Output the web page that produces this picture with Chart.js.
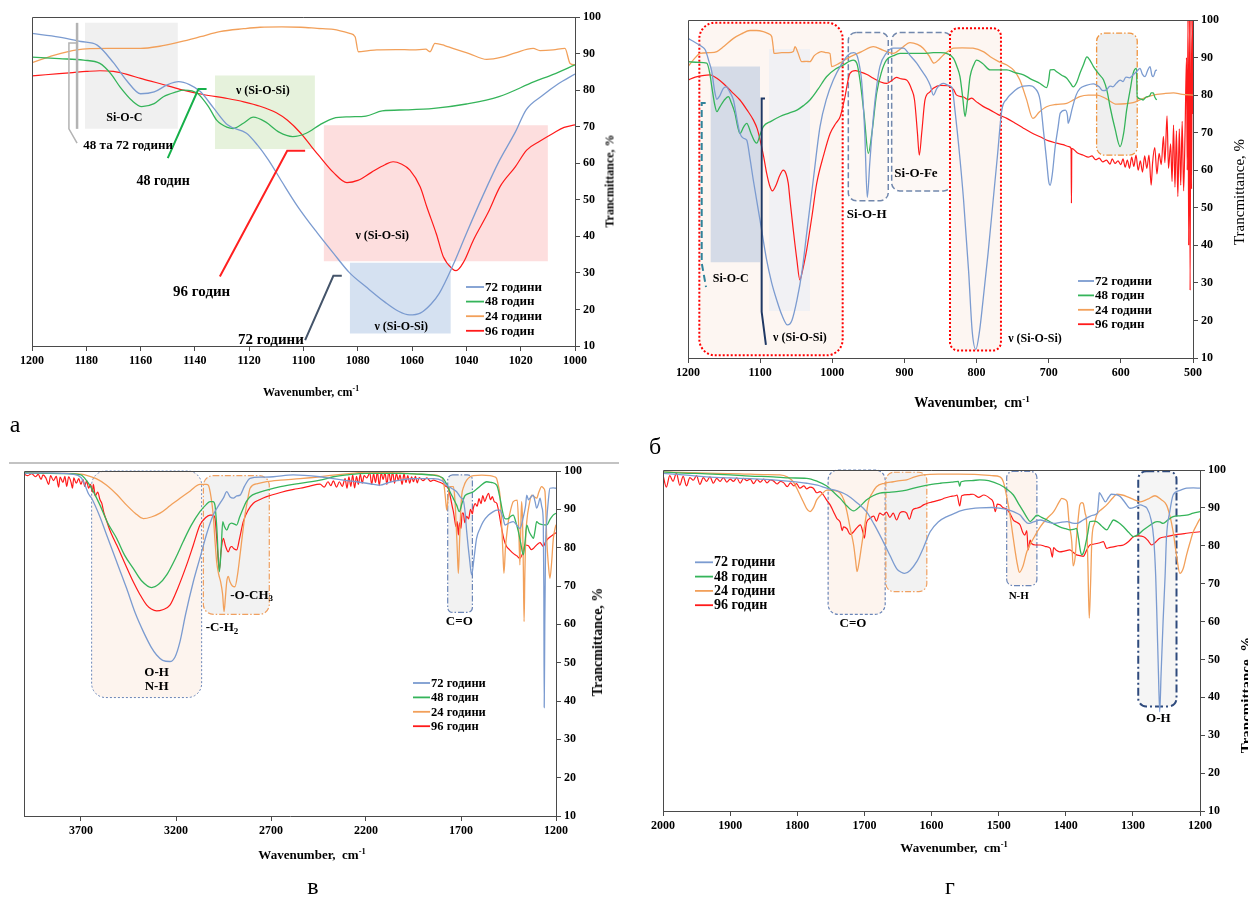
<!DOCTYPE html>
<html>
<head>
<meta charset="utf-8">
<title>ІЧ-спектри</title>
<script src="https://cdn.jsdelivr.net/npm/chart.js@4.4.1/dist/chart.umd.min.js"></script>
<style>
  html, body { margin: 0; padding: 0; background: #fff; }
  body { position: relative; width: 1248px; height: 901px; overflow: hidden; font-family: "Liberation Serif", "Times New Roman", serif; }
  canvas { position: absolute; }
  .t { position: absolute; white-space: nowrap; color: #000; transform: translate(-50%, -50%); }
  .b { font-weight: bold; }
  .rot { transform: translate(-50%, -50%) rotate(-90deg); }
  .t sup { font-size: 0.65em; vertical-align: 0.55em; line-height: 0; }
  .letter { font-size: 24px; }
  .rule { position: absolute; left: 9px; top: 462px; width: 610px; height: 2px; background: #c3c3c3; }
</style>
</head>
<body>
<canvas id="chartA" width="640" height="420" style="left:0;top:0"></canvas>
<canvas id="chartB" width="608" height="430" style="left:640px;top:0"></canvas>
<canvas id="chartC" width="640" height="445" style="left:0;top:455px"></canvas>
<canvas id="chartD" width="608" height="445" style="left:640px;top:455px"></canvas>
<div class="rule"></div>

<div class="t b" style="left:311px;top:392px;font-size:12px">Wavenumber, cm<sup>-1</sup></div>
<div class="t b" style="left:972px;top:403px;font-size:14px">Wavenumber,&nbsp; cm<sup>-1</sup></div>
<div class="t b" style="left:312px;top:855px;font-size:13px">Wavenumber,&nbsp; cm<sup>-1</sup></div>
<div class="t b" style="left:954px;top:848px;font-size:13px">Wavenumber,&nbsp; cm<sup>-1</sup></div>

<div class="t b rot" style="left:610px;top:181px;font-size:12px">Trancmittance, %</div>
<div class="t rot" style="left:1239px;top:192px;font-size:15px">Trancmittance, %</div>
<div class="t b rot" style="left:598px;top:642px;font-size:14px">Trancmittance, %</div>
<div class="t b rot" style="left:1246px;top:695px;font-size:15px">Trancmittance, %</div>

<div class="t letter" style="left:15px;top:424px">а</div>
<div class="t letter" style="left:655px;top:446px">б</div>
<div class="t letter" style="left:313px;top:886px">в</div>
<div class="t letter" style="left:950px;top:886px">г</div>

<script>
// ---------- series names ----------
const seriesNames = ['72 години', '48 годин', '24 години', '96 годин'];

// ---------- tick labels ----------
const ticksA = [1200, 1180, 1160, 1140, 1120, 1100, 1080, 1060, 1040, 1020, 1000];
const ticksB = [1200, 1100, 1000, 900, 800, 700, 600, 500];
const ticksC = [3700, 3200, 2700, 2200, 1700, 1200];
const ticksD = [2000, 1900, 1800, 1700, 1600, 1500, 1400, 1300, 1200];
const ticksT = [10, 20, 30, 40, 50, 60, 70, 80, 90, 100];

// ---------- panel а: 1200–1000 cm-1 ----------
const a72 = [[1200,95.5],[1190,94.5],[1182,93.3],[1176,92.3],[1170,87.5],[1165,82.5],[1160,79],[1155,79.5],[1150,81.5],[1146,82.3],[1142,81.5],[1138,79.6],[1133,75],[1128,70.5],[1121,68.2],[1117,65],[1113,61],[1108,55],[1102,48],[1095,41],[1089,35.4],[1083,30],[1077,26.2],[1070,22],[1065,19.5],[1061,18.5],[1057,19],[1053,21.5],[1050,24.4],[1045,32],[1040,40.8],[1034,51],[1028,60.5],[1022,68.5],[1018,74.6],[1012,78.5],[1006,81.8],[1000,84.4]];
const a48 = [[1200,89],[1190,88.6],[1181,88.2],[1175,87.3],[1171,84.5],[1167.6,80.9],[1163,77],[1159.6,75.5],[1155,76.3],[1151.6,78.2],[1147,79.5],[1144,80],[1139,79.1],[1135,75.5],[1132,71.8],[1128,69.8],[1125.9,69.5],[1122,71],[1118.5,72.6],[1114,71.3],[1109,68.5],[1104,67.3],[1099,68.2],[1094,70.5],[1089,72.3],[1083,72.7],[1077,72.9],[1071,74.3],[1062,74.6],[1052,75],[1040,76.2],[1028,78.2],[1015,82.3],[1008,84.3],[1000,86.9]];
const a24 = [[1200,87.5],[1192,89.5],[1183.5,91],[1172,91.4],[1160,91.4],[1153,92],[1145.5,93.2],[1138,94.6],[1130.8,96],[1122,96.8],[1116,97.2],[1108,97.3],[1101,97.2],[1095,96.9],[1089,96.6],[1083,95.5],[1081,94.6],[1079.8,90.5],[1076,90.8],[1073,91],[1066,91.1],[1059.6,91],[1055,91.2],[1053.4,90.5],[1051.6,92.8],[1048,92.2],[1045,91.4],[1039,90],[1032.5,88.4],[1027,89],[1022,90.2],[1015.4,91.4],[1012.9,90.8],[1008,91],[1003.7,91.4],[1001.8,87.3],[1000,86.9]];
const a96 = [[1200,83.9],[1195,84.2],[1190,84.5],[1185,84.8],[1180,85.1],[1175,85.3],[1170,85.1],[1165,84.3],[1160,83.2],[1153,81.8],[1145.5,80.2],[1137,78.8],[1128,77.7],[1122,76.8],[1116,75.6],[1110,73.8],[1106,71.8],[1101,68.2],[1097,64.5],[1094,61.8],[1089,57.5],[1084,54.7],[1080,55.3],[1075,57.5],[1070,59.6],[1067,60.4],[1064,59.8],[1060.8,58.1],[1057,53.5],[1054.6,48.1],[1051,40.5],[1048.5,34.4],[1045,31],[1043.8,30.6],[1041,33],[1037.4,39],[1032,46.5],[1027.6,53.6],[1022,59],[1017.8,63.6],[1013,66],[1008,68.2],[1004,69.8],[1000,70.5]];

// ---------- panel б: 1200–500 cm-1 ----------
const b72 = [[1200,95.1],[1190,94],[1180,92.8],[1176,92],[1171,89],[1167,86.2],[1163,81],[1160,78.9],[1156,79.8],[1151,81.8],[1147,82.2],[1142,80.8],[1137,78.7],[1132,73.5],[1128,69.8],[1123,68.5],[1118.6,68],[1114,63],[1109.5,57.4],[1100,46.5],[1091,36.1],[1084,30],[1077,25.4],[1070,21.5],[1062,18.8],[1056,20],[1049,25.4],[1042,33],[1035.5,43.2],[1026,58],[1017,71.6],[1008,79],[998.6,84],[988,88],[978,90.7],[970,91.3],[966,90.7],[962,87.5],[959,83.1],[955,70],[951.5,52.8],[948,62],[943,74.3],[938,83],[934,87.6],[925,91.2],[915.5,92.5],[901.5,92.5],[892,90.5],[883,88.5],[876,86.5],[869,84.5],[864,82.5],[860,80],[855,81.8],[850,82.8],[846,83.1],[838,82.5],[834,82],[830,76],[823,63],[818,52],[811,33],[806,17],[801,12.3],[796,17],[791,25.4],[784,38],[777,52],[771,64],[765,76],[758,79],[751,80.5],[743,81.8],[735,82.4],[727,82.5],[719,81.8],[712,78.7],[707,70],[703,62.7],[700,57],[698,56],[695,59],[691,66.3],[687,71.5],[684,75.2],[677,76],[674,74.5],[673,72.5],[671,73.5],[668,76],[662,80],[656.5,81.8],[648,82.6],[638,83],[633,82.6],[630,82.2],[625,81.2],[620,81.4],[615,82.4],[611,82.2],[606,83.2],[601,84],[597,83.6],[593,84.8],[588,84.6],[583,85.4],[578,86.3],[573.5,87.1],[570,85.5],[566.6,84.9],[563,86.5],[559.6,87.6],[557,85.3],[555,84.9],[552,86.5],[550,86.7]];
const b48 = [[1200,88.9],[1185,88.7],[1174,88.5],[1170,86],[1167,82.2],[1163,77.5],[1160,75.6],[1156,76.8],[1150,78.6],[1144,79.6],[1140,78],[1135,75.2],[1131,71.5],[1128,69.8],[1123,71.5],[1118.6,72.5],[1113,70],[1108,67.8],[1104.8,67.2],[1100,69.5],[1095.6,71.6],[1085,73],[1072.5,74.3],[1060,75.2],[1049,76],[1040,77.2],[1031,78.7],[1020,81.5],[1008,84.9],[995,87],[985,88],[971,89.3],[966,88.5],[961.6,84],[956,75],[950,64.5],[945,70],[938.5,80.5],[932,86],[925,89.3],[915,90.5],[906,91.1],[890,91.1],[874,91.1],[860,91.3],[850,91.3],[840,91],[832,89.8],[827,87.5],[823,84.9],[819,79],[816,74.3],[813,78],[809,84.9],[804,88],[800,89.3],[792,88.5],[781,86.7],[770,86.7],[758,86.7],[747,86],[735,85.4],[724,84.2],[712,83.1],[703,82],[700,84],[698,86.7],[693,86.8],[689,86.2],[682,85.3],[675,84.5],[670,83.2],[666,82.2],[661,83.5],[656.7,85.8],[652,88],[647,90.2],[642,89],[638,87.6],[630,85.5],[624,84],[619,81],[615,76.9],[608,71],[601,66.3],[596,70],[592,76],[587,81.5],[583,85.8],[578.3,87.1],[577.4,79.6],[573,79],[569,78.7],[565,79.5],[560,79.8],[558,80.6],[555,80.6],[553,79.5],[550.4,78.7]];
const b24 = [[1200,87.6],[1192,89.5],[1183,91.1],[1170,91.3],[1160,91.6],[1150,93],[1137,95.1],[1126,96.3],[1114,97.2],[1105,97.2],[1095.6,96.9],[1088,96.3],[1084,95.6],[1082,93],[1080.8,91.1],[1070,91.3],[1060,91.3],[1054,91.6],[1051.7,92.9],[1048,91.5],[1042.4,88.9],[1036,89],[1031,88.9],[1025,90.5],[1020,91.2],[1014.7,91.6],[1008,91.3],[1003.2,91.1],[1000.9,87.6],[990,88.5],[975.5,90.2],[960,91.5],[943,92.9],[930,92],[915.5,91.1],[904,92.5],[892.3,94],[882,93.5],[874,92.5],[866,90.5],[859,88.5],[852,89.5],[846,90.7],[838,91.9],[832,92.5],[820,92.6],[805,92.5],[790,91.5],[781,90.2],[770,89],[758,88],[748,86.5],[740,84],[731,79],[722,73.8],[713,75.5],[703,76.9],[690,77.5],[675,77.8],[665,78.8],[657,79.6],[645,80],[633,80],[620,79],[606,77.6],[594,77.7],[583,78],[570,79],[555,80],[540,80.4],[527,80.6],[515,80.2],[500,80]];
const b96 = [[1200,84],[1190,84.8],[1180,85.2],[1169.5,85.4],[1160,84.5],[1151,83.1],[1140,81],[1128,78.7],[1118,76],[1109.5,73.4],[1104,71],[1100,68],[1095,63.5],[1091,59.2],[1087,56],[1083,54.5],[1078,56],[1073,58.5],[1068,60],[1064,59],[1061,56.5],[1058.6,52],[1054,44],[1049,36],[1045,30.8],[1041,33.5],[1035.5,38.8],[1028,48],[1021.6,56.5],[1012,64],[1003,69.8],[995,72.5],[989,74.3],[983,79],[975.5,85.8],[968,86.5],[961.6,86.2],[952,85.5],[943,84.5],[933,83.5],[924.6,83.1],[918,83.8],[911,84.7],[904,84.3],[897,84],[890,81.5],[886,78.7],[882,70],[879.4,64],[876,70],[871.5,78.7],[865,80.8],[860,81.8],[850,82.6],[840,82.5],[832,81.5],[827.6,80],[818,79.5],[812,78.8],[807,79.2],[800,78.2],[791,77],[781,76],[770,74.8],[758,73.8],[747,72.6],[735,71.2],[724,70],[712,68.9],[700,67.8],[689,67.2],[680,66.8],[672,66.3],[669,65.8],[668.5,51.2],[668,65.8],[660,64.6],[652,64],[645,63.5],[640,63.8],[635,62.8],[630,63.2],[625,62.2],[620,62.7],[615,61.6],[612,63],[608,61.8],[604,62.5],[600,61.5],[597,63],[594,60.8],[591,62.7],[588,60.5],[585,63.5],[582,61],[579,64],[576,60],[573,62.5],[570,59.5],[567,63.8],[564,60.5],[561,64],[558,56],[556,62],[553,66],[550,59],[547,64.5],[544,61.5],[541,69],[539,62],[536,74.5],[534,60.5],[531,67],[529,57],[527,72],[525,55.5],[523,70.5],[521,53],[519,71],[517,56],[515,73],[513,54.5],[511,70],[509,90],[508,60],[507,100],[506,40],[505,100],[504,28],[503,100],[502,55],[501,100],[500,75]];

// ---------- panel в: 4000–1200 cm-1 ----------
const c72 = [[4000,99.4],[3900,99.5],[3800,99.4],[3750,99.2],[3700,98.3],[3679,96.3],[3660,94],[3644,92.9],[3600,88],[3565,83.3],[3510,76],[3460,69.4],[3415,63],[3372,58.1],[3330,54],[3302,52],[3270,50.6],[3232,50.3],[3205,51.5],[3179,55.5],[3150,62.5],[3109,71.1],[3070,78],[3038,83.7],[3004,88.5],[2968,91.6],[2950,93],[2933,94.6],[2915,93.2],[2898,92.9],[2880,93.5],[2863,93.7],[2840,96],[2810,98.1],[2750,98.4],[2688,98.5],[2583,99],[2442,98.5],[2372,98],[2300,97.5],[2250,97.2],[2196,96.8],[2160,96.5],[2126,96.3],[2080,97],[2021,97.6],[1950,98],[1846,98],[1800,97.5],[1775,96.3],[1750,95.5],[1723,94.6],[1700,93],[1688,92.4],[1678,89],[1670,84.2],[1655,77],[1644,72.9],[1632,77],[1618,82.4],[1600,85],[1583,86.8],[1555,88.5],[1530,89.4],[1510,89.8],[1495,89.8],[1480,88],[1468,85.9],[1445,86.5],[1425,86.8],[1405,85.8],[1390,85],[1372,88],[1360,91],[1354,93.7],[1345,92.5],[1337,92.9],[1320,93.7],[1310,92],[1302,90.3],[1292,91.5],[1284,92.9],[1274,90.5],[1267,86.8],[1264,70],[1262,38.3],[1259,60],[1255,80],[1249,86.8],[1240,92.5],[1232,95.5],[1215,95.6],[1200,95.5]];
const c48 = [[4000,99.5],[3900,99.4],[3800,99.3],[3700,99],[3679,98],[3650,96],[3600,91.1],[3560,86.5],[3512,82.4],[3470,78],[3425,74.6],[3380,71.3],[3328,69.6],[3290,70.5],[3249,72.9],[3200,77.5],[3162,81.6],[3120,85.8],[3074,89.4],[3040,91.3],[3021,92],[3005,92],[2995,91.1],[2985,85],[2972,73.7],[2962,80],[2954,86.8],[2945,85.5],[2933,84.6],[2920,86],[2907,86.4],[2895,86.2],[2881,85.9],[2865,88],[2846,90.3],[2830,92],[2810,93.3],[2770,94.3],[2723,95],[2650,95.9],[2547,96.8],[2442,97.6],[2372,98.5],[2300,99],[2196,99.4],[2100,99.4],[2021,99.4],[1930,99.2],[1846,98.9],[1800,98.3],[1793,98],[1775,96.5],[1758,94.6],[1740,92.8],[1723,91.1],[1709,89.4],[1695,91.5],[1680,93.5],[1670,93.9],[1650,94.3],[1635,94.6],[1600,96],[1565,97.2],[1540,97],[1512,96.3],[1495,93],[1477,88.5],[1465,87.5],[1451,87.6],[1438,88.2],[1425,88.5],[1412,86.8],[1398,84.2],[1385,81],[1372,78.1],[1362,82],[1354,85.9],[1340,84],[1328,83],[1319,82.4],[1310,84.5],[1302,86.8],[1290,86.3],[1270,86],[1249,85.9],[1230,87.5],[1215,88.5],[1200,89]];
const c24 = [[4000,99.6],[3900,99.5],[3800,99.4],[3700,99.2],[3679,99],[3620,98],[3565,96.3],[3510,93.8],[3460,91.1],[3415,89],[3372,87.6],[3330,88],[3284,89],[3230,91],[3179,92.9],[3125,94.8],[3074,96.5],[3040,96.5],[3030,96.3],[3015,93],[3004,88.5],[2995,82],[2986,76.3],[2975,73],[2965,71.1],[2955,68],[2947,63.3],[2940,67],[2933,71.1],[2925,72.5],[2916,71.1],[2903,70],[2890,69.8],[2876,73],[2863,78.1],[2850,83.5],[2837,88.5],[2823,92.5],[2810,95.5],[2770,96.7],[2723,97.2],[2650,97.6],[2547,98],[2442,98.5],[2372,98.9],[2290,99.3],[2196,99.7],[2100,99.6],[2021,99.5],[1930,99.2],[1846,99],[1800,98.2],[1790,96.5],[1782,93],[1775,89.8],[1768,93],[1758,95.9],[1740,95.9],[1732,92.5],[1726,86.8],[1720,80],[1714,73.3],[1708,81],[1702,89],[1696,93.7],[1685,96],[1670,97.6],[1635,98.8],[1590,98.9],[1547,98.8],[1525,98.5],[1512,98],[1505,96.5],[1495,93.7],[1485,85],[1478,77],[1474,73.3],[1466,80],[1458,84],[1451,86.8],[1438,90],[1425,92],[1404,92.4],[1396,85],[1390,75.5],[1385,86],[1381,92],[1376,87],[1372,75],[1368,60.7],[1364,73],[1360,82],[1354,86.8],[1340,91.5],[1328,93.7],[1315,93.3],[1302,92.9],[1290,94.5],[1276,95.9],[1265,95.5],[1258,94.6],[1253,89],[1249,82.4],[1240,75.5],[1232,72],[1224,75.5],[1214,82.4],[1205,85],[1200,86]];
const c96 = [[4000,99.2],[3980,98.8],[3960,99.3],[3940,98.5],[3925,99.1],[3910,97.8],[3900,99],[3885,98.2],[3870,96.5],[3860,98.8],[3845,97.5],[3830,98.6],[3818,95.8],[3810,98.4],[3795,97],[3785,98.6],[3775,96],[3765,98.5],[3752,97],[3745,95.5],[3738,98.2],[3725,96.8],[3712,98],[3700,96.5],[3690,97.8],[3680,96],[3670,97.5],[3660,95.5],[3650,96.5],[3640,94.5],[3635,96.5],[3625,93.5],[3612,94.5],[3600,92.5],[3590,91.5],[3580,89.2],[3565,87],[3550,84.8],[3530,82.5],[3512,80.7],[3470,76],[3425,71.1],[3390,67.8],[3354,65],[3330,64],[3302,63.5],[3270,63.8],[3232,65],[3190,69.5],[3144,75.5],[3110,80.5],[3074,85.9],[3045,87.8],[3021,88.5],[3005,88.5],[2995,87.7],[2985,82],[2972,74.2],[2963,79],[2951,82.4],[2940,80.5],[2925,78.9],[2915,80],[2907,80.3],[2895,79.7],[2881,79.4],[2865,82.5],[2846,86.8],[2820,89.8],[2793,91.6],[2760,92.5],[2723,93.3],[2650,94.4],[2580,95.2],[2547,95.5],[2500,96],[2442,96.6],[2420,95.8],[2400,97.2],[2385,96.2],[2372,97.4],[2355,95.8],[2340,97.2],[2325,96],[2310,98],[2300,95.5],[2290,98.5],[2280,96],[2270,99],[2260,95.6],[2250,98.6],[2240,96.5],[2230,99.2],[2220,96.8],[2210,98.8],[2196,98.2],[2180,99.5],[2170,96.5],[2160,99.3],[2150,97],[2140,99.8],[2130,96.2],[2120,99.6],[2110,97.8],[2100,99.5],[2090,96.5],[2080,100],[2070,97.2],[2060,99.8],[2050,96.8],[2040,99.4],[2030,97.5],[2021,99],[2010,96.5],[2000,99.3],[1990,97],[1980,98.8],[1970,96.8],[1960,98.5],[1950,97.2],[1940,98.6],[1930,96.9],[1920,98.3],[1900,97.5],[1880,98.2],[1860,97.3],[1846,97.6],[1820,97.2],[1800,96.8],[1793,96.6],[1780,96],[1767,95.5],[1755,93],[1745,90.5],[1740,89.4],[1733,87.2],[1726,85.5],[1720,86.8],[1714,83.3],[1708,86.5],[1700,85],[1694,89],[1688,89],[1680,86.5],[1670,88.2],[1660,87.5],[1650,90],[1640,88.8],[1635,90.3],[1625,91.5],[1615,90.8],[1605,92.8],[1595,91.5],[1585,93.6],[1575,92],[1565,93.3],[1555,94.2],[1545,92.5],[1535,93.3],[1525,92],[1512,91.6],[1500,89],[1486,85],[1473,82],[1460,80.3],[1445,79.5],[1425,78.5],[1405,77.8],[1390,77.2],[1376,78.5],[1363,80.7],[1345,80.5],[1330,79.5],[1319,79.8],[1300,80.8],[1284,81.3],[1275,80.8],[1267,80.3],[1255,81.5],[1241,82.4],[1220,83.2],[1200,83.9]];

// ---------- panel г: 2000–1200 cm-1 ----------
const d72 = [[2000,99.1],[1970,98.7],[1935,98.2],[1900,97.9],[1870,97.7],[1836,97.4],[1810,97],[1786,96.5],[1770,96],[1756,95.2],[1740,94.5],[1726,93.4],[1712,91.5],[1697,89],[1685,85.5],[1672,81.1],[1662,77.5],[1652,74],[1645,73],[1640,72.7],[1632,73.5],[1622,75.8],[1612,79.5],[1602,83.7],[1590,86.3],[1577,87.7],[1565,88.6],[1557,89.2],[1540,89.8],[1528,90],[1510,90.1],[1498,89.9],[1488,89.6],[1478,89],[1468,88.1],[1462,86.8],[1456,85.9],[1448,86.3],[1438,86.8],[1428,86.3],[1418,85.9],[1408,86.2],[1398,86.4],[1390,86],[1384,85.9],[1374,86.8],[1365,87.7],[1359,88.1],[1353,88.6],[1351,92],[1350,94],[1346,93],[1341,91.6],[1336,92.8],[1332,93.6],[1325,93.5],[1319,93],[1312,91.5],[1304,89.9],[1297,90.2],[1289,90.8],[1284,90.5],[1279,89.9],[1273,87],[1269,82],[1266,72],[1264,60],[1262,47],[1260,36.2],[1258,46],[1255,60],[1252,72],[1250,82],[1245,89],[1240,93.4],[1230,94.6],[1220,95.2],[1210,95.3],[1200,95.2]];
const d48 = [[2000,99.5],[1970,99.2],[1935,99],[1900,98.7],[1870,98.4],[1836,98.2],[1810,97.9],[1786,97.8],[1770,97],[1756,95.8],[1745,94],[1736,92.5],[1726,90.5],[1716,89.2],[1706,90.5],[1697,92.1],[1687,93.2],[1677,93.9],[1665,94.1],[1652,94.3],[1637,94.7],[1620,95.5],[1600,96.2],[1587,96.5],[1570,96.8],[1560,97],[1558,95.7],[1556,96.9],[1540,97.2],[1528,97.4],[1515,97.2],[1498,96.1],[1488,95],[1478,93.4],[1470,91],[1463,89],[1458,87.5],[1453,86.4],[1448,87.2],[1443,88.1],[1436,87.5],[1428,86.8],[1418,85.8],[1409,85],[1400,84.5],[1394,84.2],[1387,84.4],[1384,84.6],[1381,82],[1378,78.5],[1376,77.6],[1373,78.5],[1371,80],[1367,83.5],[1364,86.4],[1358,86.5],[1354,86.4],[1347,85.3],[1339,84.2],[1334,85.5],[1329,86.8],[1322,86.2],[1314,85],[1306,83.5],[1299,82.4],[1292,83],[1284,84.2],[1274,85.5],[1264,86.4],[1260,86.3],[1255,85.9],[1248,86.8],[1240,87.7],[1230,87.9],[1220,88.1],[1210,88.6],[1200,89]];
const d24 = [[2000,99.5],[1960,99.3],[1920,99.1],[1885,99],[1850,98.8],[1826,98.7],[1815,98.2],[1806,96.9],[1798,94.2],[1791,91.6],[1786,89.8],[1781,89],[1776,90],[1771,92.1],[1763,93.7],[1756,94.7],[1746,94.6],[1736,93.9],[1730,91.8],[1726,89],[1721,84.5],[1716,80.2],[1713,76],[1711,73.2],[1708,75.5],[1704,80.2],[1699,86],[1694,91.6],[1688,94],[1682,95.6],[1670,96.5],[1657,96.9],[1647,97.2],[1637,97.4],[1625,98.2],[1612,98.7],[1590,98.9],[1560,98.9],[1530,98.8],[1510,98.5],[1498,98.2],[1493,96.9],[1488,93],[1483,88.1],[1479,83],[1476,79.3],[1472,75],[1469,73],[1464,74.5],[1458,78.4],[1448,82],[1438,85],[1428,87.2],[1418,89],[1410,91.5],[1406,92.5],[1402,92.3],[1398,91.6],[1395,86],[1391,81],[1389,74.7],[1386,77],[1384,82],[1381,88],[1379,90.8],[1376,91.4],[1374,91.2],[1371,88.5],[1369,86.4],[1367,75],[1365,60.9],[1363,70],[1361,82],[1357,86],[1354,88.1],[1346,89.7],[1339,90.8],[1330,92.6],[1324,93.6],[1316,93.4],[1309,93],[1300,92.3],[1289,91.6],[1278,92.3],[1267,93.2],[1258,92.2],[1250,90.8],[1245,88],[1240,83.7],[1235,77.5],[1230,72.7],[1225,74],[1220,77.6],[1215,80.8],[1210,83.7],[1205,85.5],[1200,87.2]];
const d96 = [[2000,98.7],[1995,95.5],[1990,98.5],[1985,97],[1980,99.2],[1975,96],[1970,98.3],[1965,95.8],[1960,98],[1955,97.3],[1950,98.5],[1945,96.2],[1940,98],[1935,97],[1930,98.2],[1925,96.5],[1920,97.8],[1915,97],[1910,98],[1905,96.8],[1900,97.6],[1895,97],[1890,97.9],[1885,96.5],[1880,97.8],[1875,97.2],[1870,97.6],[1865,96.4],[1860,97.5],[1855,96.8],[1850,97.6],[1845,96.6],[1840,97.4],[1836,97.2],[1830,96.3],[1825,97],[1820,96.6],[1815,95.6],[1810,96.6],[1805,95.8],[1801,96.4],[1796,95.2],[1790,95.8],[1786,95],[1781,95.5],[1776,95.2],[1771,94],[1766,94.3],[1761,93.4],[1756,92],[1751,90.8],[1746,89],[1741,87.2],[1736,86.2],[1733,84],[1731,85],[1726,84.5],[1721,83],[1716,83.7],[1711,84.8],[1706,85.5],[1702,83.5],[1700,82],[1697,86],[1692,87.2],[1686,87.8],[1682,86.5],[1677,88.6],[1672,88.1],[1667,88.9],[1662,87.5],[1657,88.6],[1652,86.8],[1647,88.7],[1642,89],[1637,88.6],[1633,87],[1628,89.5],[1622,89.9],[1617,90.2],[1612,90.8],[1605,91.3],[1600,91.5],[1594,91.8],[1587,92.1],[1580,92.6],[1572,93],[1565,93.2],[1562,93.4],[1558,90.5],[1555,93.2],[1545,93.5],[1538,93.6],[1530,92.8],[1522,93.4],[1513,92.5],[1508,91.5],[1505,89],[1502,91],[1498,90.8],[1493,90],[1488,89.7],[1483,88.5],[1478,86.8],[1473,86.2],[1468,85.5],[1464,83.5],[1461,82.8],[1458,84],[1456,78.9],[1453,81.5],[1451,80.6],[1445,80.2],[1438,80.2],[1430,79.8],[1423,79.3],[1420,77],[1418,79.5],[1414,78.8],[1409,78.4],[1402,78.6],[1394,78.9],[1389,78.3],[1384,77.6],[1379,77.4],[1374,77.2],[1369,78.8],[1364,80.2],[1359,80.4],[1354,80.6],[1349,80.8],[1344,81.1],[1339,79.3],[1334,79.6],[1329,79.7],[1322,80],[1314,80.2],[1306,81.2],[1299,82.4],[1292,82.6],[1284,82.4],[1278,81.5],[1272,80.2],[1266,81],[1260,82],[1250,82.4],[1240,82.8],[1220,83.3],[1200,83.7]];

// ---------- drawing helpers ----------
const lineColors = ['#7b9bd0', '#35b45a', '#f2a05a', '#ff1a1a'];
const SERIF = '"Liberation Serif", "Times New Roman", serif';
const AXIS_COLOR = '#4a4a4a';

function buildDatasets(groups) {
  return groups.map((pts, i) => ({
    label: seriesNames[i],
    data: pts.map(([x, y]) => ({ x, y })),
    borderColor: lineColors[i],
    borderWidth: i === 3 ? 1.2 : 1.3,
    pointRadius: 0,
    fill: false,
    cubicInterpolationMode: 'monotone'
  }));
}

function buildScales(lo, hi, xTicks, axisH, axisW) {
  const tickFont = { family: SERIF, weight: 'bold', size: 12 };
  return {
    x: {
      type: 'linear', reverse: true, min: lo, max: hi,
      afterBuildTicks: ax => { ax.ticks = xTicks.map(v => ({ value: v })); },
      afterFit: ax => { ax.height = axisH; },
      ticks: { font: tickFont, color: '#000', padding: 3, autoSkip: false, maxRotation: 0, minRotation: 0, callback: v => String(v) },
      grid: { display: true, drawOnChartArea: false, drawTicks: true, tickLength: 5, color: AXIS_COLOR },
      border: { display: true, color: AXIS_COLOR, width: 1 }
    },
    y: {
      type: 'linear', position: 'right', min: 10, max: 100,
      afterBuildTicks: ax => { ax.ticks = ticksT.map(v => ({ value: v })); },
      afterFit: ax => { ax.width = axisW; },
      ticks: { font: tickFont, color: '#000', padding: 3, callback: v => String(v) },
      grid: { display: true, drawOnChartArea: false, drawTicks: true, tickLength: 5, color: AXIS_COLOR },
      border: { display: true, color: AXIS_COLOR, width: 1 }
    }
  };
}

// Highlight boxes (behind the spectra), then leader lines, labels, legend and frame on top.
function overlay(cfg) {
  return {
    id: 'overlay',
    beforeDatasetsDraw(chart) {
      const { ctx, chartArea: ca, scales: { x, y } } = chart;
      ctx.save();
      ctx.beginPath();
      ctx.rect(ca.left - 1, ca.top - 1, ca.width + 2, ca.height + 2);
      ctx.clip();
      (cfg.boxes || []).forEach(b => {
        const x1 = x.getPixelForValue(b.x1), x2 = x.getPixelForValue(b.x2);
        const y1 = y.getPixelForValue(b.y1), y2 = y.getPixelForValue(b.y2);
        const l = Math.min(x1, x2), t = Math.min(y1, y2);
        const w = Math.abs(x2 - x1), h = Math.abs(y2 - y1);
        ctx.beginPath();
        if (b.r) ctx.roundRect(l, t, w, h, b.r); else ctx.rect(l, t, w, h);
        if (b.fill) { ctx.fillStyle = b.fill; ctx.fill(); }
        if (b.stroke) {
          ctx.setLineDash(b.dash || []);
          ctx.lineWidth = b.lw || 1;
          ctx.strokeStyle = b.stroke;
          ctx.stroke();
          ctx.setLineDash([]);
        }
      });
      ctx.restore();
    },
    afterDraw(chart) {
      const { ctx, chartArea: ca, scales: { x, y } } = chart;
      ctx.save();
      // plot frame (top and left sides; right and bottom come from the axes)
      ctx.strokeStyle = AXIS_COLOR;
      ctx.lineWidth = 1;
      ctx.beginPath();
      ctx.moveTo(ca.left + 0.5, ca.bottom);
      ctx.lineTo(ca.left + 0.5, ca.top + 0.5);
      ctx.lineTo(ca.right, ca.top + 0.5);
      ctx.stroke();

      (cfg.paths || []).forEach(p => {
        ctx.beginPath();
        p.pts.forEach(([wx, wy], k) => {
          const px = x.getPixelForValue(wx), py = y.getPixelForValue(wy);
          if (k === 0) ctx.moveTo(px, py); else ctx.lineTo(px, py);
        });
        ctx.setLineDash(p.dash || []);
        ctx.strokeStyle = p.color;
        ctx.lineWidth = p.lw || 2;
        ctx.stroke();
        ctx.setLineDash([]);
      });

      ctx.fillStyle = '#000';
      ctx.textBaseline = 'middle';
      (cfg.labels || []).forEach(lb => {
        const px = x.getPixelForValue(lb.x), py = y.getPixelForValue(lb.y);
        const size = lb.size || 12;
        const font = `bold ${size}px ${SERIF}`;
        const subFont = `bold ${Math.round(size * 0.7)}px ${SERIF}`;
        ctx.font = font;
        const mainW = ctx.measureText(lb.text).width;
        ctx.font = subFont;
        const subW = lb.sub ? ctx.measureText(lb.sub).width : 0;
        const start = px - (mainW + subW) / 2;
        ctx.textAlign = 'left';
        ctx.font = font;
        ctx.fillText(lb.text, start, py);
        if (lb.sub) {
          ctx.font = subFont;
          ctx.fillText(lb.sub, start + mainW, py + size * 0.3);
        }
      });

      const lg = cfg.legend;
      if (lg) {
        ctx.font = `bold ${lg.size}px ${SERIF}`;
        ctx.textAlign = 'left';
        chart.data.datasets.forEach((ds, i) => {
          const yy = lg.y + i * lg.gap;
          ctx.strokeStyle = ds.borderColor;
          ctx.lineWidth = 1.8;
          ctx.beginPath();
          ctx.moveTo(lg.x0, yy);
          ctx.lineTo(lg.x1, yy);
          ctx.stroke();
          ctx.fillStyle = '#000';
          ctx.fillText(ds.label, lg.x1 + 1, yy + 0.5);
        });
      }
      ctx.restore();
    }
  };
}

function makeChart(id, groups, scales, pad, cfg) {
  return new Chart(document.getElementById(id), {
    type: 'line',
    data: { datasets: buildDatasets(groups) },
    options: {
      responsive: false,
      animation: false,
      devicePixelRatio: 1,
      layout: { padding: { left: pad.left, top: pad.top, right: 0, bottom: 0 } },
      plugins: { legend: { display: false }, tooltip: { enabled: false } },
      scales
    },
    plugins: [overlay(cfg)]
  });
}

const DASH_DOT = [6, 2, 1.5, 2];

// ---------- а ----------
makeChart('chartA', [a72, a48, a24, a96], buildScales(1000, 1200, ticksA, 74, 65), { left: 32, top: 17 }, {
  boxes: [
    { x1: 1180.5, x2: 1146.3, y1: 98.4, y2: 69.4, fill: 'rgba(235,235,235,0.75)' },
    { x1: 1132.6, x2: 1095.8, y1: 84, y2: 63.9, fill: 'rgba(226,240,214,0.85)' },
    { x1: 1092.5, x2: 1010, y1: 70.4, y2: 33.2, fill: 'rgba(253,214,214,0.8)' },
    { x1: 1082.9, x2: 1045.8, y1: 32.8, y2: 13.4, fill: 'rgba(208,222,240,0.9)' }
  ],
  paths: [
    { pts: [[1183.4, 98.4], [1183.4, 69.4]], color: '#b3b3b3', lw: 2.5 },
    { pts: [[1183.4, 92.9], [1186.4, 92.9], [1186.4, 69.4], [1183.4, 65.5]], color: '#b3b3b3', lw: 1.5 },
    { pts: [[1150, 61.4], [1138.7, 80.3], [1135.7, 80.3]], color: '#16b04a', lw: 2 },
    { pts: [[1130.8, 29], [1106, 63.4], [1099.4, 63.4]], color: '#ff2020', lw: 2 },
    { pts: [[1099.4, 11.6], [1089, 29.2], [1085.9, 29.2]], color: '#44546a', lw: 2 }
  ],
  labels: [
    { x: 1166, y: 72.4, text: 'Si-O-C', size: 12 },
    { x: 1115, y: 79.8, text: 'ν (Si-O-Si)', size: 12 },
    { x: 1164.6, y: 64.7, text: '48 та 72 години', size: 13 },
    { x: 1151.7, y: 55.1, text: '48 годин', size: 14 },
    { x: 1137.5, y: 24.7, text: '96 годин', size: 15 },
    { x: 1112, y: 11.7, text: '72 години', size: 15 },
    { x: 1071, y: 40, text: 'ν (Si-O-Si)', size: 12 },
    { x: 1064, y: 15.3, text: 'ν (Si-O-Si)', size: 12 }
  ],
  legend: { x0: 466, x1: 484, y: 287, gap: 14.6, size: 13 }
});

// ---------- б ----------
makeChart('chartB', [b72, b48, b24, b96], buildScales(500, 1200, ticksB, 72, 55), { left: 48, top: 20 }, {
  boxes: [
    { x1: 1184.3, x2: 985.6, y1: 99.3, y2: 10.7, fill: '#fdf6f2', stroke: '#ff0000', dash: [2, 2], lw: 2, r: 16 },
    { x1: 1168.5, x2: 1100.2, y1: 87.6, y2: 35.5, fill: '#d5dbe7' },
    { x1: 1087.7, x2: 1030.9, y1: 92.3, y2: 22.5, fill: '#f1f1f4' },
    { x1: 977.8, x2: 922.4, y1: 96.7, y2: 51.9, fill: '#fdf8f5', stroke: '#7288ad', dash: [6, 3], lw: 1.5, r: 8 },
    { x1: 917.7, x2: 834.5, y1: 96.7, y2: 54.5, fill: '#fdf8f5', stroke: '#7288ad', dash: [6, 3], lw: 1.5, r: 8 },
    { x1: 836.8, x2: 766.2, y1: 97.8, y2: 12, fill: '#fdf6f2', stroke: '#ff0000', dash: [2, 2], lw: 2, r: 8 },
    { x1: 633.6, x2: 577.3, y1: 96.5, y2: 64, fill: '#efefef', stroke: '#f0943f', dash: DASH_DOT, lw: 1.3, r: 8 }
  ],
  paths: [
    { pts: [[1175.5, 77.9], [1181, 77.9], [1181, 35.3], [1175, 28.9]], color: '#31849b', lw: 2, dash: [7, 4] },
    { pts: [[1093.3, 79.1], [1097.9, 79.1], [1097.9, 22.3], [1092, 13.5]], color: '#1f3864', lw: 2 }
  ],
  labels: [
    { x: 1140.8, y: 31, text: 'Si-O-C', size: 12 },
    { x: 1044.8, y: 15.4, text: 'ν (Si-O-Si)', size: 12 },
    { x: 952.3, y: 48.3, text: 'Si-O-H', size: 13 },
    { x: 884, y: 59, text: 'Si-O-Fe', size: 13 },
    { x: 719, y: 15.2, text: 'ν (Si-O-Si)', size: 12 }
  ],
  legend: { x0: 438, x1: 454, y: 281, gap: 14.4, size: 13 }
});

// ---------- в ----------
makeChart('chartC', [c72, c48, c24, c96], buildScales(1200, 4000, ticksC, 84, 84), { left: 24, top: 16 }, {
  boxes: [
    { x1: 3644, x2: 3065, y1: 100, y2: 40.9, fill: '#fdf4ee', stroke: '#6b86b8', dash: [2, 2], lw: 1, r: 14 },
    { x1: 3056, x2: 2709, y1: 98.8, y2: 62.6, fill: '#f2f2f2', stroke: '#f0a060', dash: DASH_DOT, lw: 1.2, r: 10 },
    { x1: 1770, x2: 1640, y1: 99, y2: 63.1, fill: '#f2f2f2', stroke: '#6b86b8', dash: DASH_DOT, lw: 1.2, r: 5 }
  ],
  labels: [
    { x: 3302, y: 47.5, text: 'O-H', size: 13 },
    { x: 3302, y: 43.8, text: 'N-H', size: 13 },
    { x: 2802, y: 67.6, text: '-O-CH', sub: '3', size: 13 },
    { x: 2958, y: 59.2, text: '-C-H', sub: '2', size: 13 },
    { x: 1709, y: 60.7, text: 'C=O', size: 13 }
  ],
  legend: { x0: 413, x1: 430, y: 228, gap: 14.4, size: 12.5 }
});

// ---------- г ----------
makeChart('chartD', [d72, d48, d24, d96], buildScales(1200, 2000, ticksD, 89, 48), { left: 23, top: 15 }, {
  boxes: [
    { x1: 1754, x2: 1669, y1: 100, y2: 61.9, fill: '#fdf4ee', stroke: '#6b86b8', dash: [3, 2], lw: 1.2, r: 10 },
    { x1: 1668, x2: 1607, y1: 99.4, y2: 67.9, fill: '#f2f2f2', stroke: '#f0a060', dash: DASH_DOT, lw: 1.2, r: 8 },
    { x1: 1488, x2: 1443, y1: 99.6, y2: 69.5, fill: '#fdf4ee', stroke: '#6b86b8', dash: DASH_DOT, lw: 1.2, r: 6 },
    { x1: 1292, x2: 1235, y1: 99.7, y2: 37.6, fill: '#f5f5f5', stroke: '#2e4a7d', dash: [8, 3, 2, 3], lw: 2, r: 8 }
  ],
  labels: [
    { x: 1717, y: 59.5, text: 'C=O', size: 13 },
    { x: 1470, y: 66.6, text: 'N-H', size: 11 },
    { x: 1262, y: 34.5, text: 'O-H', size: 13 }
  ],
  legend: { x0: 55, x1: 73, y: 107.3, gap: 14.3, size: 14 }
});
</script>
</body>
</html>
